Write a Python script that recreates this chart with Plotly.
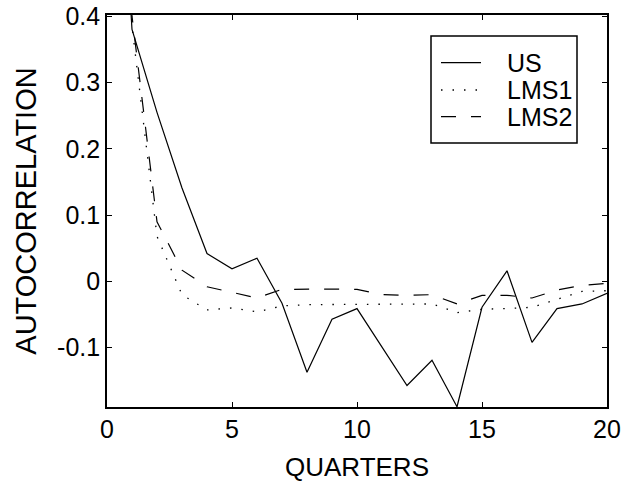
import plotly.graph_objects as go

quarters = list(range(0, 21))
us = [1.0, 0.38, 0.255, 0.141, 0.042, 0.019, 0.035, -0.033, -0.137, -0.057, -0.041,
      -0.099, -0.157, -0.119, -0.189, -0.039, 0.016, -0.092, -0.041, -0.034, -0.018]
lms1 = [1.0, 0.385, 0.068, -0.02, -0.043, -0.040, -0.046, -0.037, -0.035, -0.035, -0.035,
        -0.034, -0.034, -0.034, -0.047, -0.042, -0.041, -0.039, -0.027, -0.015, -0.014]
lms2 = [1.0, 0.40, 0.09, 0.017, -0.008, -0.016, -0.025, -0.012, -0.0115, -0.0115, -0.012,
        -0.020, -0.021, -0.020, -0.034, -0.021, -0.021, -0.025, -0.013, -0.006, -0.003]

series_names = ["US", "LMS1", "LMS2"]
x_ticks = [0, 5, 10, 15, 20]
y_ticks = [-0.1, 0, 0.1, 0.2, 0.3, 0.4]
y_ticktext = ["-0.1", "0", "0.1", "0.2", "0.3", "0.4"]

FONT = "Liberation Sans, Arial, Helvetica, sans-serif"
W, H = 625, 482
# plot box in pixels: x 107..607, y 15..407
ML, MT, MR, MB = 107, 15, W - 607, H - 407
PW, PH = W - ML - MR, H - MT - MB

styles = [dict(color="black", width=1.2),
          dict(color="black", width=1.3, dash="1.5px,10px"),
          dict(color="black", width=1.2, dash="15px,15px")]

fig = go.Figure()
for name, vals, st in zip(series_names, [us, lms1, lms2], styles):
    fig.add_trace(go.Scatter(x=quarters, y=vals, mode="lines", name=name,
                             line=st, showlegend=False))

axis_common = dict(
    showgrid=False, zeroline=False, showline=True, linecolor="black", linewidth=1.6,
    mirror="allticks", ticks="inside", ticklen=5, tickcolor="black", tickwidth=1,
    tickfont=dict(family=FONT, size=25, color="black"), automargin=False,
    ticklabeloverflow="allow",
)

fig.update_xaxes(range=[0, 20], tickvals=x_ticks, ticktext=[str(v) for v in x_ticks],
                 ticklabelstandoff=-1,
                 title=dict(text="QUARTERS", font=dict(family=FONT, size=26, color="black"),
                            standoff=20),
                 **axis_common)
fig.update_yaxes(range=[-0.1894, 0.4018], tickvals=y_ticks, ticktext=y_ticktext,
                 title=dict(text="AUTOCORRELATION", font=dict(family=FONT, size=29, color="black"),
                            standoff=12),
                 **axis_common)


# legend box (pixel geometry converted to paper coordinates)
def px(xp):
    return (xp - ML) / PW


def py(yp):
    return (MT + PH - yp) / PH


shapes = [dict(type="rect", xref="paper", yref="paper",
               x0=px(431), x1=px(577), y0=py(143), y1=py(36),
               line=dict(color="black", width=1.5), fillcolor="white", layer="above")]
annotations = []
row_y = [62.7, 90, 116.7]
for name, st, ry in zip(series_names, styles, row_y):
    shapes.append(dict(type="line", xref="paper", yref="paper",
                       x0=px(441), x1=px(481), y0=py(ry), y1=py(ry),
                       line=st, layer="above"))
    annotations.append(dict(text=name, xref="paper", yref="paper",
                            x=px(505), y=py(ry), xanchor="left", yanchor="middle",
                            showarrow=False,
                            font=dict(family=FONT, size=25, color="black")))

fig.update_layout(
    width=W, height=H,
    margin=dict(l=ML, r=MR, t=MT, b=MB, pad=0),
    paper_bgcolor="white", plot_bgcolor="white",
    font=dict(family=FONT, size=25, color="black"),
    showlegend=False,
    shapes=shapes, annotations=annotations,
)

fig.write_html(
    "out.html",
    config={"displayModeBar": False},
    post_script="document.body.style.margin='0';document.body.style.overflow='hidden';",
)
